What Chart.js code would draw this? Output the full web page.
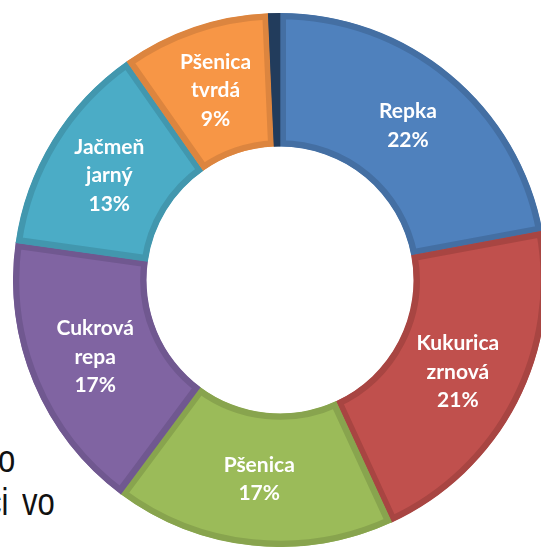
<!DOCTYPE html>
<html>
<head>
<meta charset="utf-8">
<script src="https://cdn.jsdelivr.net/npm/chart.js@4/dist/chart.umd.min.js"></script>
<style>
    html, body { margin: 0; padding: 0; background: #fff; overflow: hidden; width: 541px; height: 549px; }
    #wrap { position: absolute; left: 13px; top: 13px; width: 534px; height: 534px; }
    .bg { position: absolute; font-family: "Liberation Sans", Arial, sans-serif; font-size: 31px; line-height: 30px;
          color: #111; white-space: nowrap; transform: scaleY(1.25); transform-origin: 0 25px; }
</style>
</head>
<body>
<div class="bg" style="left:-2px; top:447px;">o</div>
<div class="bg" style="left:-14px; top:490px;">ci</div>
<div class="bg" style="left:22px; top:490px;">vo</div>
<div id="wrap"><canvas id="cropChart"></canvas></div>
<script>
const categories = ['Repka', 'Kukurica zrnová', 'Pšenica', 'Cukrová repa', 'Jačmeň jarný', 'Pšenica tvrdá', 'Ostatné'];
const shares = [22, 21, 17, 17, 13, 9, 0.7];
const fillColors = ['#4F81BD', '#C0504D', '#9BBB59', '#8064A2', '#4BACC6', '#F79646', '#2C4A6E'];
const edgeColors = ['#446FA3', '#A84542', '#88A44E', '#705890', '#4297AE', '#DC853F', '#223C5C'];

// white labels inside the ring: words of the name on separate lines, then the share
const sliceLabels = {
    id: 'sliceLabels',
    afterDatasetsDraw(chart) {
        const ctx = chart.ctx;
        const meta = chart.getDatasetMeta(0);
        ctx.save();
        ctx.font = 'bold 21px Lato';
        ctx.fillStyle = '#fff';
        ctx.textAlign = 'center';
        ctx.textBaseline = 'middle';
        meta.data.forEach((arc, i) => {
            if (shares[i] < 2) return;
            const lines = categories[i].split(' ').concat(shares[i] + '%');
            const p = arc.tooltipPosition();
            const lh = 28.5;
            lines.forEach((t, k) => {
                ctx.fillText(t, p.x, p.y + (k - (lines.length - 1) / 2) * lh);
            });
        });
        ctx.restore();
    }
};

const ctx = document.getElementById('cropChart').getContext('2d');
new Chart(ctx, {
    type: 'doughnut',
    data: {
        labels: categories,
        datasets: [{
            data: shares,
            backgroundColor: fillColors,
            borderColor: edgeColors,
            borderWidth: 6,
            borderAlign: 'inner'
        }]
    },
    options: {
        responsive: true,
        maintainAspectRatio: false,
        animation: false,
        cutout: '50%',
        layout: { padding: 0 },
        plugins: {
            legend: { display: false },
            tooltip: { enabled: false }
        }
    },
    plugins: [sliceLabels]
});
</script>
</body>
</html>
